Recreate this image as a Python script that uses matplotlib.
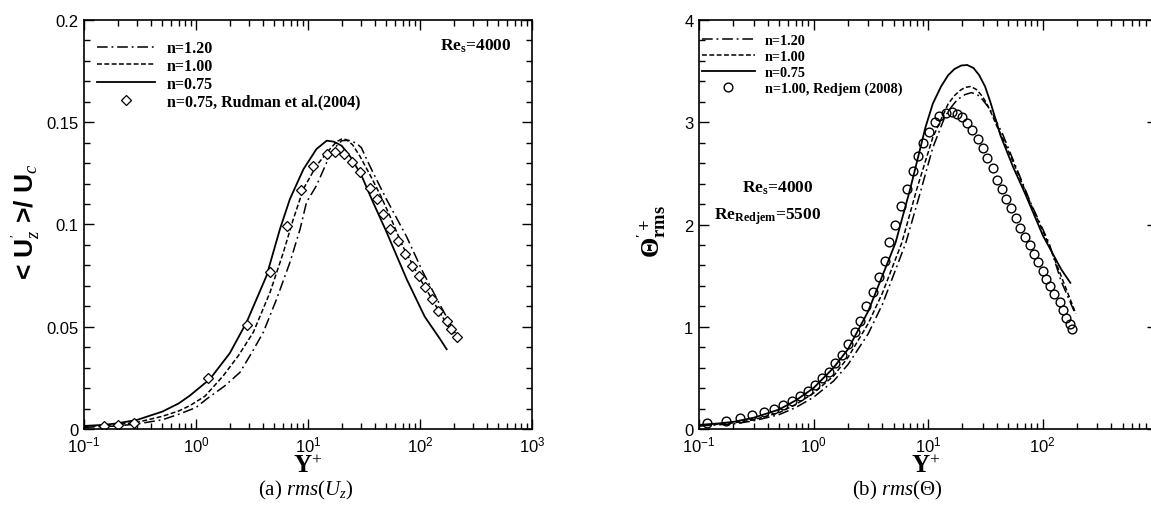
import numpy as np
import matplotlib
matplotlib.use("Agg")
import matplotlib.pyplot as plt
from matplotlib.ticker import LogLocator, FuncFormatter, MultipleLocator, NullFormatter

plt.rcParams['font.family'] = ['Liberation Sans', 'DejaVu Sans']
plt.rcParams['mathtext.fontset'] = 'custom'
plt.rcParams['mathtext.rm'] = 'Liberation Serif'
plt.rcParams['mathtext.it'] = 'Liberation Serif:italic'
plt.rcParams['mathtext.bf'] = 'Liberation Serif:bold'
plt.rcParams['mathtext.sf'] = 'Liberation Sans'

# ---------------- Panel (a): rms(U_z) ----------------
a_x_n120 = [0.1, 0.2, 0.3, 0.5, 0.7, 1.0, 1.246, 1.8, 2.47, 3.2, 3.99, 5.25, 6.9, 8.5, 9.7, 11.9, 14.7, 17, 20,
            23, 27, 30, 34, 38, 50, 76, 106, 150, 213]
a_y_n120 = [0.0008, 0.0015, 0.0025, 0.0045, 0.0072, 0.0105, 0.0147, 0.021, 0.0277, 0.038, 0.0473, 0.0636, 0.0815,
            0.0978, 0.1109, 0.119, 0.1304, 0.137, 0.141, 0.1412, 0.1398, 0.1375, 0.131, 0.1255, 0.1125, 0.094,
            0.0768, 0.061, 0.0455]

a_x_n100 = [0.1, 0.2, 0.3, 0.5, 0.7, 0.88, 1.2, 1.75, 2.4, 3.25, 4.58, 6.03, 7.4, 9.1, 11.9, 15.7, 18, 20, 22, 25,
            29, 36, 44.6, 54, 70, 100, 150, 205]
a_y_n100 = [0.0012, 0.0022, 0.0033, 0.0062, 0.0088, 0.0114, 0.016, 0.026, 0.036, 0.0473, 0.0668, 0.0864, 0.1027,
            0.1174, 0.1288, 0.1369, 0.1405, 0.1418, 0.1415, 0.139, 0.1335, 0.124, 0.114, 0.104, 0.0895, 0.0735,
            0.057, 0.045]

a_x_n075 = [0.1, 0.15, 0.2, 0.3, 0.5, 0.7, 0.88, 1.33, 2.0, 2.83, 4.27, 5.62, 6.9, 9.1, 11.9, 14.7, 17, 20, 24,
            30, 38, 50, 76, 110, 151, 173]
a_y_n075 = [0.0015, 0.002, 0.0028, 0.0045, 0.0085, 0.0125, 0.0163, 0.0244, 0.037, 0.0522, 0.075, 0.0978, 0.1125,
            0.127, 0.1369, 0.141, 0.1405, 0.1385, 0.133, 0.124, 0.111, 0.0966, 0.0733, 0.055, 0.044, 0.039]

a_x_rudman = [0.15, 0.2, 0.28, 1.28, 2.85, 4.58, 6.46, 8.66, 11.1, 14.8, 17.4, 21, 24.6, 29, 35.6, 41.6, 47, 54,
              63, 73.5, 85, 97, 111, 127, 145, 173, 191, 213]
a_y_rudman = [0.0015, 0.002, 0.003, 0.0249, 0.0509, 0.0768, 0.0993, 0.117, 0.1286, 0.1345, 0.1355, 0.1345, 0.1305,
              0.1257, 0.118, 0.1125, 0.105, 0.0978, 0.092, 0.0856, 0.0797, 0.0748, 0.0694, 0.0636, 0.0577,
              0.0528, 0.0489, 0.045]

# ---------------- Panel (b): rms(Theta) ----------------
b_x_n120 = [0.1, 0.2, 0.3, 0.5, 0.7, 1, 1.5, 2, 3, 4, 6.4, 8.5, 11, 14, 16, 18, 21, 24, 27, 30, 33, 36, 45, 55,
            79, 114, 145, 191]
b_y_n120 = [0.03, 0.05, 0.08, 0.14, 0.21, 0.31, 0.47, 0.63, 0.93, 1.22, 1.82, 2.3, 2.75, 3.05, 3.15, 3.22, 3.27,
            3.29, 3.27, 3.22, 3.16, 3.1, 2.88, 2.64, 2.21, 1.82, 1.45, 1.14]

b_x_n100 = [0.1, 0.2, 0.3, 0.5, 0.7, 1, 1.5, 2, 3, 4, 5.9, 8, 11, 15, 17, 19, 21, 23.6, 26.5, 30, 33, 36, 40, 45,
            55, 79, 114, 145, 195]
b_y_n100 = [0.03, 0.06, 0.09, 0.16, 0.24, 0.35, 0.52, 0.7, 1.03, 1.33, 1.82, 2.35, 2.85, 3.18, 3.26, 3.31, 3.34,
            3.35, 3.32, 3.25, 3.17, 3.08, 2.96, 2.84, 2.62, 2.2, 1.8, 1.5, 1.13]

b_x_n075 = [0.1, 0.15, 0.2, 0.3, 0.5, 0.7, 1, 1.5, 2, 3, 4, 5.2, 7, 9.5, 11, 13, 15, 17, 19.5, 22, 25, 28, 31.5,
            35, 43, 55, 70, 101, 146, 175]
b_y_n075 = [0.04, 0.055, 0.07, 0.11, 0.19, 0.28, 0.4, 0.6, 0.78, 1.15, 1.5, 1.82, 2.35, 2.95, 3.18, 3.35, 3.46,
            3.52, 3.555, 3.56, 3.53, 3.46, 3.35, 3.2, 2.87, 2.57, 2.31, 1.89, 1.56, 1.43]

b_x_redjem = [0.118, 0.173, 0.229, 0.292, 0.366, 0.448, 0.537, 0.645, 0.759, 0.89, 1.03, 1.18, 1.36, 1.54, 1.77,
              2.0, 2.31, 2.55, 2.88, 3.32, 3.75, 4.17, 4.6, 5.19, 5.86, 6.6, 7.46, 8.26, 9.13, 10.2, 11.4, 12.6,
              14.3, 16.2, 17.8, 19.7, 21.9, 24.1, 27.3, 30.2, 32.7, 37, 40, 44.3, 48, 53, 59, 64, 71, 77, 85, 92,
              100, 108, 117, 126, 141, 151, 162, 173, 180]
b_y_redjem = [0.059, 0.08, 0.107, 0.137, 0.166, 0.196, 0.235, 0.274, 0.323, 0.372, 0.43, 0.499, 0.557, 0.645,
              0.724, 0.831, 0.948, 1.056, 1.2, 1.34, 1.485, 1.64, 1.83, 2.0, 2.18, 2.35, 2.52, 2.67, 2.8, 2.9,
              3.0, 3.06, 3.09, 3.10, 3.08, 3.05, 2.99, 2.92, 2.84, 2.75, 2.65, 2.55, 2.44, 2.35, 2.25, 2.16,
              2.06, 1.97, 1.88, 1.8, 1.71, 1.63, 1.55, 1.47, 1.40, 1.32, 1.24, 1.16, 1.09, 1.03, 0.98]

labels_a = ["n=1.20", "n=1.00", "n=0.75", "n=0.75, Rudman et al.(2004)"]
labels_b = ["n=1.20", "n=1.00", "n=0.75", "n=1.00, Redjem (2008)"]

W, H = 1151, 510
fig = plt.figure(figsize=(W / 100, H / 100), dpi=100)

def px_axes(x0, x1, ytop, ybot):
    return [x0 / W, 1 - ybot / H, (x1 - x0) / W, (ybot - ytop) / H]

def fx(px):
    return px / W

def fy(py):
    return 1 - py / H

axA = fig.add_axes(px_axes(84, 532, 21, 430))
axB = fig.add_axes(px_axes(699, 1157, 21, 430))

dashdot = (0, (7, 2.5, 1.2, 2.5))
dashed = (0, (3.2, 1.6))
lw = 1.1

def make_fmt(hide_above=None):
    def f(v, pos):
        if hide_above is not None and v > hide_above:
            return ""
        e = int(round(np.log10(v)))
        return r"$\mathsf{10^{%d}}$" % e
    return f

def style_axes(ax, ymax, ymaj, ymin_step, hide_above=None):
    ax.set_xscale('log')
    ax.set_xlim(0.1, 1000)
    ax.set_ylim(0, ymax)
    ax.xaxis.set_major_locator(LogLocator(base=10, numticks=10))
    ax.xaxis.set_minor_locator(LogLocator(base=10, subs=np.arange(2, 10), numticks=20))
    ax.xaxis.set_major_formatter(FuncFormatter(make_fmt(hide_above)))
    ax.xaxis.set_minor_formatter(NullFormatter())
    ax.yaxis.set_major_locator(MultipleLocator(ymaj))
    ax.yaxis.set_minor_locator(MultipleLocator(ymin_step))
    ax.yaxis.set_major_formatter(FuncFormatter(lambda v, p: "%g" % round(v, 4)))
    ax.tick_params(which='both', direction='in', top=True, right=True, width=1.0)
    ax.tick_params(which='major', length=7.5, labelsize=12, pad=4)
    ax.tick_params(which='minor', length=4.5)
    ax.tick_params(axis='x', which='major', pad=4)
    for s in ax.spines.values():
        s.set_linewidth(1.2)

# Panel (a)
axA.plot(a_x_n120, a_y_n120, color='black', lw=lw, linestyle=dashdot, label=labels_a[0])
axA.plot(a_x_n100, a_y_n100, color='black', lw=lw, linestyle=dashed, label=labels_a[1])
axA.plot(a_x_n075, a_y_n075, color='black', lw=1.3, linestyle='-', label=labels_a[2])
axA.plot(a_x_rudman, a_y_rudman, linestyle='none', marker='D', markersize=5, mfc='white', mec='black',
         mew=0.9, label=labels_a[3])
style_axes(axA, 0.2, 0.05, 0.01)
axA.legend(loc='upper left', bbox_to_anchor=(0.029, 0.950), frameon=False, borderpad=0,
           borderaxespad=0, handlelength=3.63, handletextpad=0.75, labelspacing=0.1,
           prop={'family': 'Liberation Serif', 'weight': 'bold', 'size': 11.5})
fig.text(fx(440), fy(46), r"Re$_{\mathbf{s}}$=4000", fontfamily='Liberation Serif', fontweight='bold',
         fontsize=12.5, va='center', ha='left')

# Panel (b)
axB.plot(b_x_n120, b_y_n120, color='black', lw=lw, linestyle=dashdot, label=labels_b[0])
axB.plot(b_x_n100, b_y_n100, color='black', lw=lw, linestyle=dashed, label=labels_b[1])
axB.plot(b_x_n075, b_y_n075, color='black', lw=1.3, linestyle='-', label=labels_b[2])
axB.plot(b_x_redjem, b_y_redjem, linestyle='none', marker='o', markersize=6.3, mfc='none', mec='black',
         mew=1.0, label=labels_b[3])
style_axes(axB, 4, 1, 0.2, hide_above=500)
axB.legend(loc='upper left', bbox_to_anchor=(0.0066, 0.966), frameon=False, borderpad=0,
           borderaxespad=0, handlelength=3.7, handletextpad=0.7, labelspacing=0.21,
           prop={'family': 'Liberation Serif', 'weight': 'bold', 'size': 10.3})
fig.text(fx(742), fy(188), r"Re$_{\mathbf{s}}$=4000", fontfamily='Liberation Serif', fontweight='bold',
         fontsize=12.5, va='center', ha='left')
fig.text(fx(714), fy(217), r"Re$_{\mathbf{Redjem}}$=5500", fontfamily='Liberation Serif', fontweight='bold',
         fontsize=12.5, va='center', ha='left')

# Axis labels
fig.text(fx(308), fy(467), r"Y$^{+}$", fontfamily='Liberation Serif', fontweight='bold', fontsize=18,
         ha='center', va='center')
fig.text(fx(926), fy(467), r"Y$^{+}$", fontfamily='Liberation Serif', fontweight='bold', fontsize=18,
         ha='center', va='center')
fig.text(fx(26), fy(222), r"< U$^{'}_{z}$ >/ U$_{c}$", fontfamily='Liberation Sans', fontweight='bold',
         fontsize=19, ha='center', va='center', rotation=90)
fig.text(fx(652), fy(231), r"$\mathbf{\Theta}^{\mathbf{'+}}_{\mathbf{rms}}$", fontsize=19,
         ha='center', va='center', rotation=90)

# Sub-captions
fig.text(fx(306), fy(490), r"(a) $rms(U_z)$", ha='center', va='center', fontfamily='Liberation Serif',
         fontsize=15)
fig.text(fx(897), fy(490), r"(b) $rms(\Theta)$", ha='center', va='center', fontfamily='Liberation Serif',
         fontsize=15)

fig.savefig("out.png", dpi=100)
